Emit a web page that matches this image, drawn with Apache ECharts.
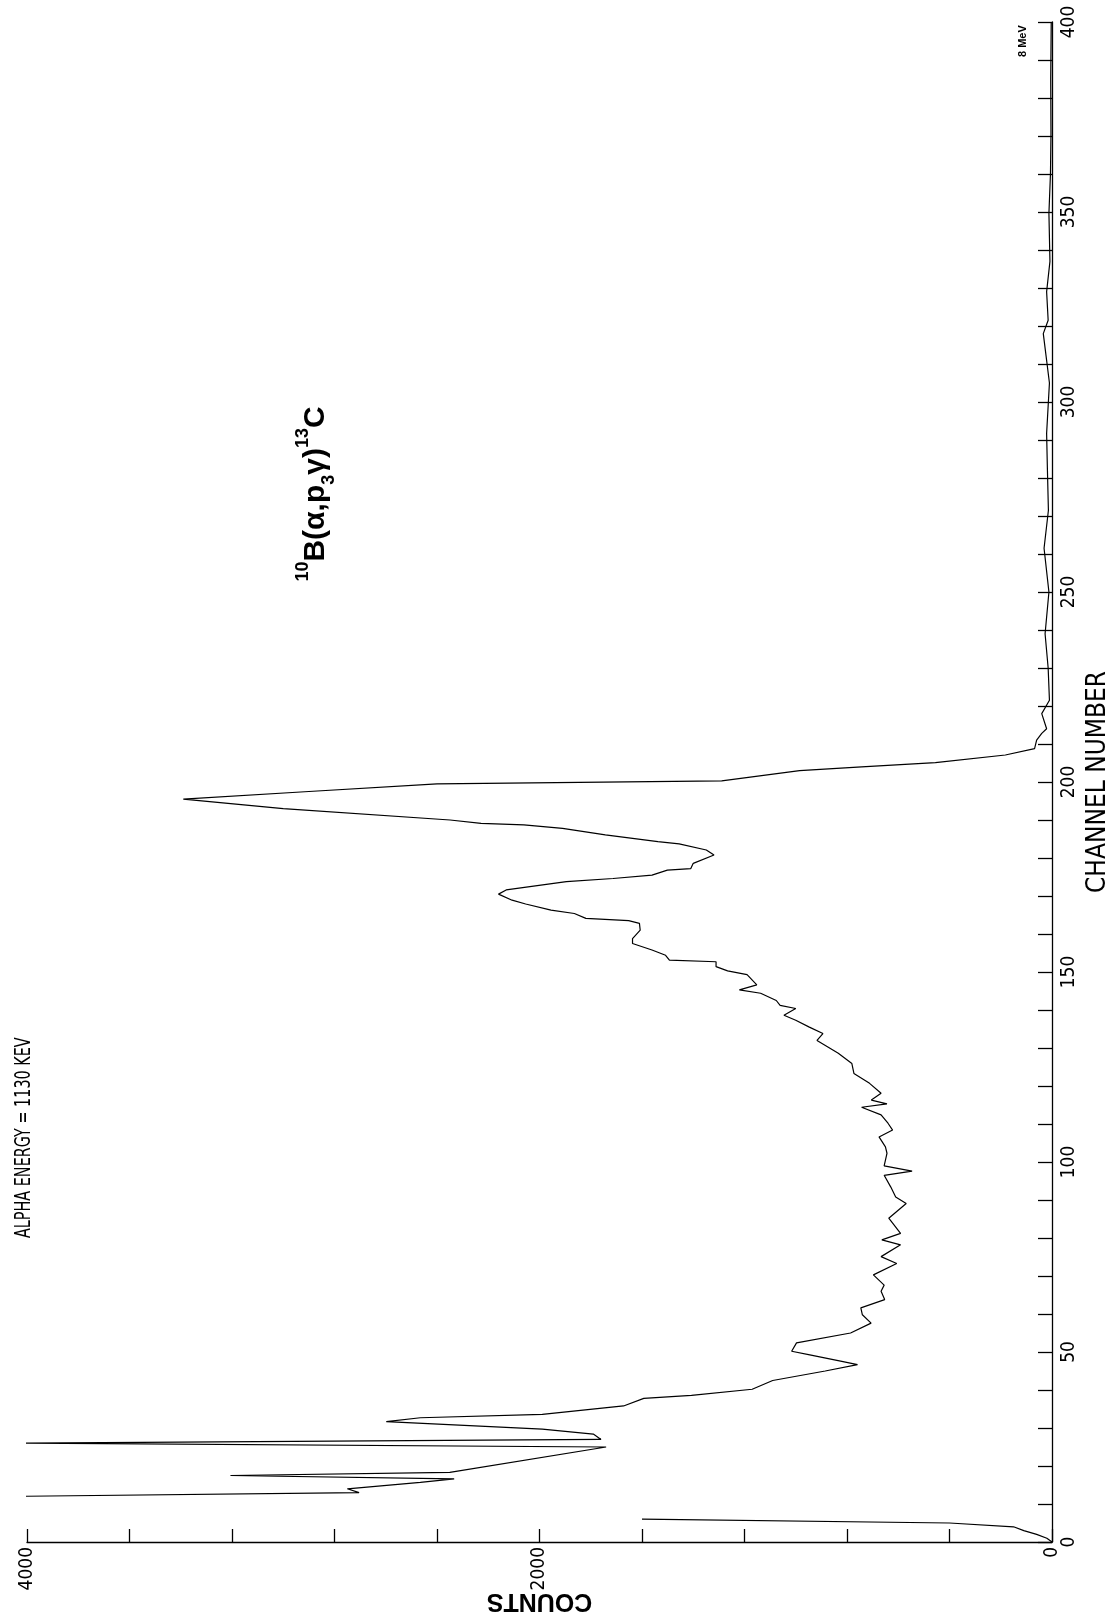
<!DOCTYPE html>
<html><head><meta charset="utf-8">
<script src="https://cdn.jsdelivr.net/npm/echarts@6/dist/echarts.min.js"></script>
<style>html,body{margin:0;padding:0;background:#fff}#c{width:1112px;height:1621px}</style>
</head><body><div id="c"></div>
<script>
// Channel numbers (vertical axis in the rotated plot)
const channel = [0,1,2,3,4,5,6,9,12,13,14,15.7,16.6,17.5,18.3,25,26,27,28.4,29.7,31.7,32.7,33.6,35.8,37.8,38.6,40.2,42.5,45,46.7,47.6,49.3,50.2,52.4,55,57.6,59.8,61.6,63.8,66,67.6,70.3,73.3,75.1,78.2,79.5,81.2,85.2,89.1,90.8,93.4,96.5,97.6,99,102.3,104,106.6,108.4,110.2,112.4,114.4,115.3,116.3,118.1,120.7,123.3,125.9,128.6,132,133.8,135.5,137.3,138.6,140.4,141.2,142.5,144.4,145.3,146.6,149.3,150.3,151.4,152.7,153.1,154.4,155.8,157.5,158.8,161,162.8,163.5,164.1,165.4,166.3,167.9,168.9,170.5,171.6,173.8,174.6,175.5,176.8,177.2,178.6,180.8,182.1,183.7,184.3,186.1,187.8,188.7,189.1,190,193,195.5,197.5,199.5,200.3,203,204,205.1,207.1,208.8,211,212.8,214,218,221.5,230,239,250,261.5,271.5,282.5,291.7,305,318,321.5,329,337,349.6,360,370.7,385,400];
// Counts read at those channels (null = off-scale / not drawn)
const counts = [0,20,60,110,150,400,1600,null,4060,2704,2750,2465,2333,3206,2350,1740,4010,1760,1790,1989,2598,2465,1989,1672,1593,1407,1170,1090,885,759,825,950,1016,997,786,706,740,746,653,667,655,697,606,667,591,664,591,637,569,610,629,655,546,655,644,650,675,622,640,667,743,644,705,667,712,773,781,834,917,894,947,1000,1046,1000,1061,1076,1137,1220,1152,1190,1266,1311,1311,1493,1508,1561,1637,1637,1607,1610,1652,1819,1864,1955,2054,2107,2160,2130,1895,1713,1561,1501,1410,1400,1319,1349,1455,1538,1743,1910,2061,2228,2349,3000,3390,2900,2400,1289,985,743,455,182,68,60,40,21,40,10,15,27,12,31,14,18,21,10,34,15,21,8,12,6,4,5,3];
// Labelled ticks
const countLabels = [0, 2000, 4000];
const channelLabels = [0, 50, 100, 150, 200, 250, 300, 350, 400];
const titleText = 'ALPHA ENERGY = 1130 KEV';
const stampText = '8 MeV';

const narrow = '"Liberation Sans Narrow","DejaVu Sans Condensed","Liberation Sans",sans-serif';
const bold = '"Liberation Sans",Arial,sans-serif';
const chart = echarts.init(document.getElementById('c'));
const seriesData = channel.map((c, i) => [counts[i] === null ? '-' : counts[i], c]);

chart.setOption({
  backgroundColor: '#fff',
  animation: false,
  grid: {left: 27, right: 60, top: 22, bottom: 79, containLabel: false, outerBoundsMode: 'none'},
  xAxis: {
    type: 'value', min: 0, max: 4000, interval: 400, inverse: true, position: 'bottom',
    axisLine: {lineStyle: {color: '#000', width: 1.3}},
    axisTick: {inside: true, length: 13, lineStyle: {color: '#000', width: 1.3}},
    splitLine: {show: false},
    axisLabel: {rotate: 90, margin: 5, fontFamily: narrow, fontSize: 19, color: '#000',
      formatter: v => countLabels.includes(v) ? String(v) : ''},
    name: 'COUNTS', nameLocation: 'middle', nameRotate: 180, nameGap: 46, nameMoveOverlap: false,
    nameTextStyle: {fontFamily: bold, fontWeight: 'bold', fontSize: 25, color: '#000'}
  },
  yAxis: {
    type: 'value', min: 0, max: 400, interval: 10, position: 'right',
    axisLine: {lineStyle: {color: '#000', width: 1.3}},
    axisTick: {inside: true, length: 14, lineStyle: {color: '#000', width: 1.3}},
    splitLine: {show: false},
    axisLabel: {rotate: 90, margin: 8, fontFamily: narrow, fontSize: 19, color: '#000',
      formatter: v => channelLabels.includes(v) ? String(v) : ''},
    name: 'CHANNEL NUMBER', nameLocation: 'middle', nameRotate: 90, nameGap: 33, nameMoveOverlap: false,
    nameTextStyle: {fontFamily: narrow, fontSize: 26, color: '#000'}
  },
  series: [{
    type: 'line', data: seriesData, symbol: 'none', showSymbol: false, connectNulls: false,
    lineStyle: {color: '#000', width: 1.2}, clip: true
  }],
  graphic: [
    {type: 'text', x: 25, y: 1238, rotation: Math.PI / 2, scaleY: 1.3,
      style: {text: titleText, font: '16px ' + narrow, fill: '#000',
        align: 'left', textAlign: 'left', verticalAlign: 'middle', textVerticalAlign: 'middle'}},
    {type: 'text', x: 316, y: 494, rotation: Math.PI / 2,
      style: {text: '{s|10}{m|B(α,p}{b|3}{m|γ)}{s|13}{m|C}', fill: '#000',
        align: 'center', textAlign: 'center', verticalAlign: 'middle', textVerticalAlign: 'middle',
        rich: {
          m: {fontFamily: bold, fontWeight: 'bold', fontSize: 30, lineHeight: 44, verticalAlign: 'middle'},
          s: {fontFamily: bold, fontWeight: 'bold', fontSize: 18, lineHeight: 44, verticalAlign: 'top'},
          b: {fontFamily: bold, fontWeight: 'bold', fontSize: 18, lineHeight: 44, verticalAlign: 'bottom'}
        }}},
    {type: 'text', x: 1023, y: 57, rotation: Math.PI / 2,
      style: {text: stampText, font: 'bold 11px ' + bold, fill: '#000',
        align: 'left', textAlign: 'left', verticalAlign: 'middle', textVerticalAlign: 'middle'}}
  ]
});
</script></body></html>
